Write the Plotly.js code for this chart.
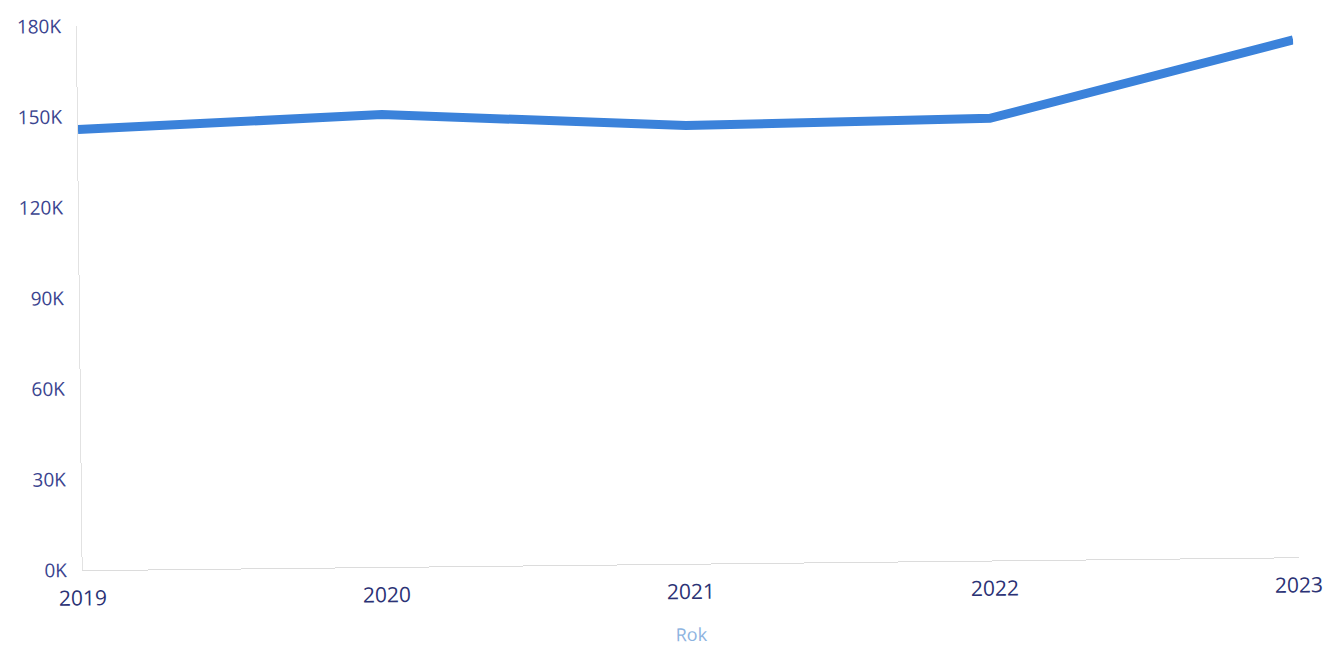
<!DOCTYPE html>
<html>
<head>
<meta charset="utf-8">
<script src="https://cdn.plot.ly/plotly-3.0.1.min.js"></script>
<style>
html,body{margin:0;padding:0;background:#fff;overflow:hidden;width:1326px;height:648px;}
#chart{width:1326px;height:660px;transform:translateY(-6px) rotate(-0.61deg);transform-origin:663px 324px;}
</style>
</head>
<body>
<div id="chart"></div>
<script>
const years = [2019, 2020, 2021, 2022, 2023];
const values = [145800, 149700, 145000, 146300, 171200];
const yTickVals = [0, 30000, 60000, 90000, 120000, 150000, 180000];
const yTickText = ["0K", "30K", "60K", "90K", "120K", "150K", "180K"];
const xTitle = "Rok";

const trace = {
  x: years,
  y: values,
  type: "scatter",
  mode: "lines",
  line: {color: "#3b82da", width: 9},
  hoverinfo: "x+y"
};

const layout = {
  width: 1326,
  height: 660,
  margin: {l: 80, r: 30, t: 26, b: 90},
  paper_bgcolor: "#ffffff",
  plot_bgcolor: "#ffffff",
  showlegend: false,
  font: {family: "Open Sans, sans-serif"},
  xaxis: {
    range: [2019, 2023],
    tickvals: years,
    ticktext: years.map(String),
    showgrid: false,
    zeroline: false,
    showline: true,
    linecolor: "#dcdcdc",
    linewidth: 1,
    ticks: "outside",
    ticklen: 9,
    tickcolor: "rgba(0,0,0,0)",
    tickfont: {size: 21, color: "#2b3275"},
    title: {text: xTitle, font: {size: 18, color: "#8db3df"}, standoff: 24}
  },
  yaxis: {
    range: [0, 180000],
    tickvals: yTickVals,
    ticktext: yTickText,
    showgrid: false,
    zeroline: false,
    showline: true,
    linecolor: "#e2e2e2",
    linewidth: 1,
    ticks: "outside",
    ticklen: 11,
    tickfont: {size: 19, color: "#3b4590"},
    tickcolor: "rgba(0,0,0,0)"
  }
};

Plotly.newPlot("chart", [trace], layout, {displayModeBar: false, staticPlot: true});
</script>
</body>
</html>
